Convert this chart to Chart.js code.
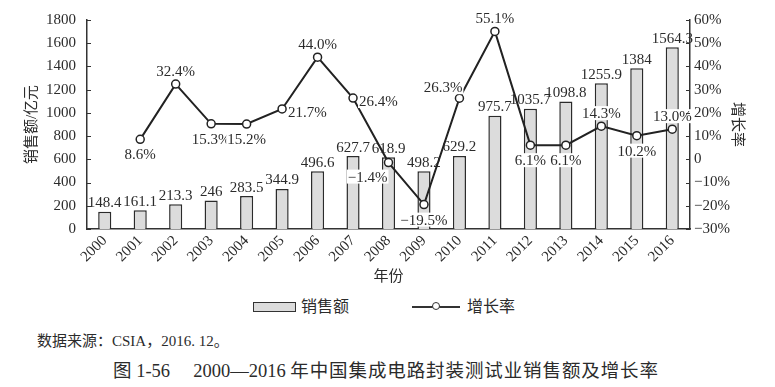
<!DOCTYPE html>
<html>
<head>
<meta charset="utf-8">
<script src="https://cdn.jsdelivr.net/npm/chart.js@4/dist/chart.umd.min.js"></script>
<style>
  body { margin: 0; background: #fff; }
  #wrap { position: relative; width: 775px; height: 387px; color: #2b2b2b;
          font-family: "Liberation Serif", "Noto Sans CJK SC", serif; }
  #chart { position: absolute; left: 0; top: 0; }
  .leg { position: absolute; top: 298px; height: 18px; font-size: 16px; line-height: 18px; }
  .sw-bar { position: absolute; top: 4px; width: 41px; height: 8px; background: #dcdcdc; border: 1.5px solid #333; }
  .sw-line { position: absolute; top: 8px; width: 48px; height: 2px; background: #333; }
  .sw-line i { position: absolute; left: 20px; top: -4px; width: 6px; height: 6px; border: 1.5px solid #333;
               border-radius: 50%; background: #fff; }
  .src { position: absolute; left: 37px; top: 329px; font-size: 15px; }
  .cap { position: absolute; left: 113px; top: 356px; font-size: 18.5px; white-space: nowrap; }
  .cap span { letter-spacing: 0.9px; }
</style>
</head>
<body>
<div id="wrap">
  <canvas id="chart" width="775" height="295"></canvas>
  <div class="leg" style="left:253px"><span class="sw-bar"></span><span style="position:absolute;left:48px;white-space:nowrap">销售额</span></div>
  <div class="leg" style="left:412px"><span class="sw-line"><i></i></span><span style="position:absolute;left:55px;white-space:nowrap">增长率</span></div>
  <div class="src">数据来源：CSIA，2016. 12。</div>
  <div class="cap">图 1-56&nbsp;&nbsp;&nbsp;&nbsp;&nbsp;2000—2016 <span>年中国集成电路封装测试业销售额及增长率</span></div>
</div>
<script>
const years = ['2000', '2001', '2002', '2003', '2004', '2005', '2006', '2007', '2008',
  '2009', '2010', '2011', '2012', '2013', '2014', '2015', '2016'];
const sales = [148.4, 161.1, 213.3, 246, 283.5, 344.9, 496.6, 627.7, 618.9,
  498.2, 629.2, 975.7, 1035.7, 1098.8, 1255.9, 1384, 1564.3];
const growth = [null, 8.6, 32.4, 15.3, 15.2, 21.7, 44.0, 26.4, -1.4,
  -19.5, 26.3, 55.1, 6.1, 6.1, 14.3, 10.2, 13.0];
// where each growth label sits relative to its point
const rateLabelPos = ['', 'below', 'above', 'below', 'below', 'right', 'above', 'right', 'belowLeft',
  'below', 'aboveLeft', 'above', 'below', 'below', 'above', 'below', 'above'];

const ink = '#2b2b2b';
const fontFam = '"Liberation Serif", "Noto Sans CJK SC", serif';

function fmtRate(v) {
  if (v === 0) return '0';
  return (v < 0 ? '\u2212' : '') + Math.abs(v).toFixed(1) + '%';
}

const labels = {
  id: 'labels',
  afterDatasetDraw(chart, args) {
    const ctx = chart.ctx;
    const meta = args.meta;
    ctx.save();
    ctx.font = '15px ' + fontFam;
    if (meta.type === 'bar') {
      ctx.fillStyle = ink;
      ctx.textAlign = 'center';
      ctx.textBaseline = 'bottom';
      meta.data.forEach((el, i) => ctx.fillText(String(sales[i]), el.x, el.y - 1));
    } else {
      ctx.textBaseline = 'middle';
      meta.data.forEach((el, i) => {
        if (growth[i] == null) return;
        const txt = fmtRate(growth[i]);
        const w = ctx.measureText(txt).width;
        let cx = el.x, cy = el.y;
        switch (rateLabelPos[i]) {
          case 'above': cy -= 13; break;
          case 'below': cy += 15; break;
          case 'right': cx += 6 + w / 2; cy += 3; break;
          case 'belowLeft': cx -= 1 + w / 2; cy += 14; break;
          case 'aboveLeft': cx += 3 - w / 2; cy -= 11; break;
        }
        ctx.fillStyle = '#fff';
        ctx.fillRect(cx - w / 2 - 1, cy - 7, w + 2, 14);
        ctx.fillStyle = ink;
        ctx.textAlign = 'center';
        ctx.fillText(txt, cx, cy + 1);
      });
    }
    ctx.restore();
  },
  afterDraw(chart) {
    // short inward tick marks on both value axes
    const { ctx, chartArea } = chart;
    ctx.save();
    ctx.strokeStyle = '#333';
    ctx.lineWidth = 1;
    ctx.beginPath();
    chart.scales.y.ticks.forEach(t => {
      const py = Math.round(chart.scales.y.getPixelForValue(t.value)) + 0.5;
      ctx.moveTo(chartArea.left, py); ctx.lineTo(chartArea.left + 4, py);
    });
    chart.scales.y1.ticks.forEach(t => {
      const py = Math.round(chart.scales.y1.getPixelForValue(t.value)) + 0.5;
      ctx.moveTo(chartArea.right, py); ctx.lineTo(chartArea.right - 4, py);
    });
    ctx.stroke();
    ctx.restore();
  }
};

new Chart(document.getElementById('chart'), {
  data: {
    labels: years,
    datasets: [
      {
        type: 'line',
        label: '增长率',
        data: growth,
        yAxisID: 'y1',
        order: 0,
        borderColor: '#222',
        borderWidth: 2,
        tension: 0,
        pointRadius: 4,
        pointBorderWidth: 1.5,
        pointBackgroundColor: '#fff',
        pointBorderColor: '#222'
      },
      {
        type: 'bar',
        label: '销售额',
        data: sales,
        yAxisID: 'y',
        order: 1,
        backgroundColor: '#dcdcdc',
        borderColor: '#2b2b2b',
        borderWidth: 1.5,
        categoryPercentage: 1,
        barPercentage: 0.37
      }
    ]
  },
  options: {
    responsive: false,
    animation: false,
    layout: { padding: { top: 20, left: 0, right: 0, bottom: 0 } },
    plugins: { legend: { display: false }, tooltip: { enabled: false } },
    scales: {
      x: {
        grid: { display: false, drawTicks: false },
        border: { color: '#333', width: 1.5 },
        ticks: { color: ink, font: { family: fontFam, size: 15 }, minRotation: 45, maxRotation: 45, padding: 3 },
        title: { display: true, text: '年份', color: ink, font: { family: fontFam, size: 15 }, padding: { bottom: 9 } },
        afterFit(s) { s.height = 66; }
      },
      y: {
        position: 'left',
        min: 0, max: 1800,
        grid: { display: false, drawTicks: false },
        border: { color: '#333', width: 1.5 },
        ticks: { stepSize: 200, color: ink, font: { family: fontFam, size: 15 }, padding: 11, callback: v => String(v) },
        title: { display: true, text: '销售额/亿元', color: ink, font: { family: fontFam, size: 15 }, padding: { top: 23 } },
        afterFit(s) { s.width = 87; }
      },
      y1: {
        position: 'right',
        min: -30, max: 60,
        grid: { display: false, drawTicks: false },
        border: { color: '#333', width: 1.5 },
        ticks: { stepSize: 10, color: ink, font: { family: fontFam, size: 15 }, padding: 4, callback: v => fmtRate(v).replace('.0', '') },
        title: { display: true, text: '增长率', color: ink, font: { family: fontFam, size: 15 }, padding: { top: 29 } },
        afterFit(s) { s.width = 85; }
      }
    }
  },
  plugins: [labels]
});
</script>
</body>
</html>
